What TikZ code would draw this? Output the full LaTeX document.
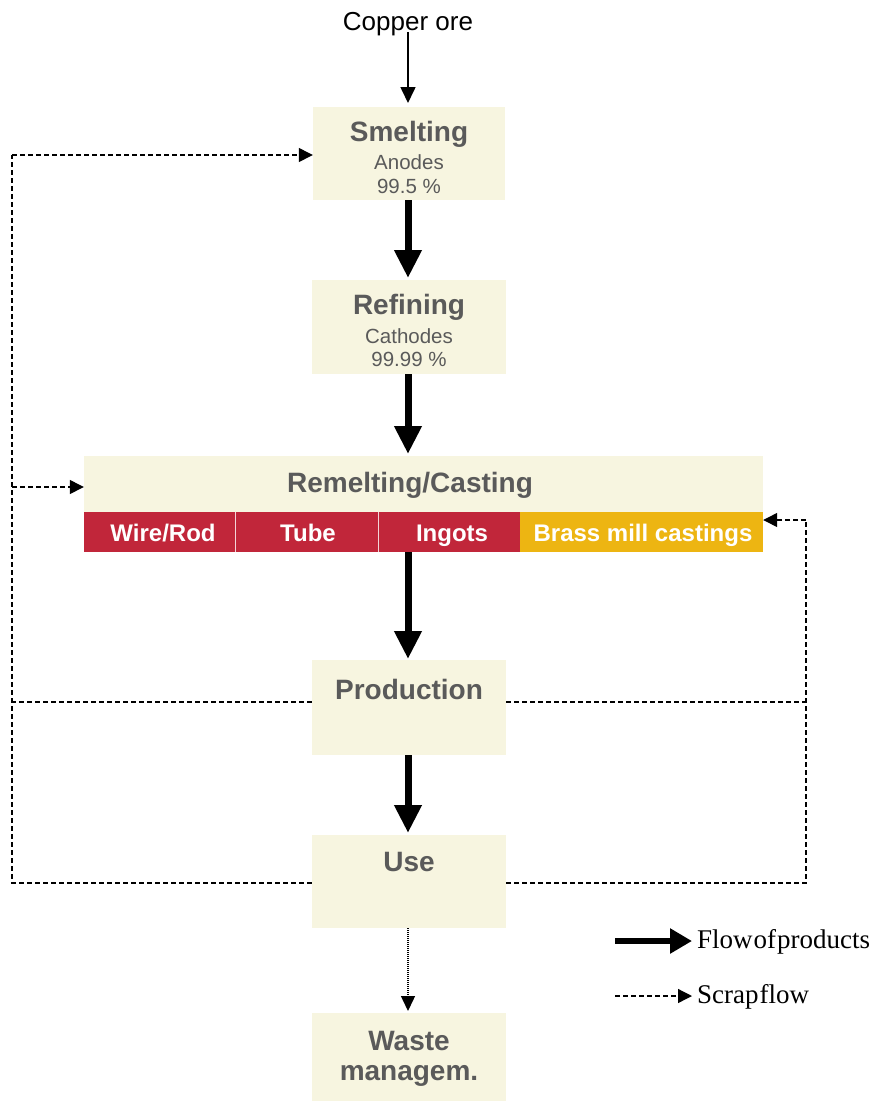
\documentclass[tikz,border=0pt]{standalone}
\usepackage{fontspec}
\setmainfont{Liberation Sans}
\newfontfamily\legendfont{Liberation Serif}[WordSpace=0.15]
\usetikzlibrary{arrows.meta}
\definecolor{cream}{HTML}{F7F5E0}
\definecolor{boxtext}{HTML}{5A5A5A}
\definecolor{castred}{HTML}{C1263A}
\definecolor{castgold}{HTML}{EDB512}
\tikzset{
  box/.style={rectangle, fill=cream, draw=none, inner sep=0pt},
  cell/.style={rectangle, draw=none, inner sep=0pt, minimum height=40pt},
  celltext/.style={anchor=base, inner sep=0pt, text=white,
    font=\fontsize{24}{28}\selectfont\bfseries},
  title/.style={text=boxtext, font=\fontsize{28}{32}\selectfont\bfseries, inner sep=0pt},
  sub/.style={text=boxtext, font=\fontsize{20.5}{24}\selectfont, inner sep=0pt},
  flow/.style={line width=7pt, -{Triangle[length=28pt,width=26pt]}},
  feed/.style={line width=1.6pt, -{Triangle[length=16pt,width=15pt]}},
  scrap/.style={line width=1.3pt, dash pattern=on 5pt off 3pt},
  scraparrow/.style={scrap, -{Triangle[length=14pt,width=14pt]}},
  waste/.style={line width=1.4pt, dash pattern=on 1.2pt off 0.8pt, -{Triangle[length=15pt,width=14pt]}},
  legend/.style={anchor=west, inner sep=0pt, font=\legendfont\fontsize{27}{31}\selectfont}
}
\begin{document}
\begin{tikzpicture}[x=1pt,y=-1pt]
\useasboundingbox (0,0) rectangle (874,1101);
% source
\node[inner sep=0pt, font=\fontsize{26}{30}\selectfont] (ore) at (408,24) {Copper ore};
% boxes
\node[box, minimum width=192pt, minimum height=93pt] (smelt) at (409,153.5) {};
\node[title] (smeltT) at (409,134) {Smelting};
\node[sub] (smeltA) at (409,162) {Anodes};
\node[sub] (smeltB) at (409,186) {99.5 \%};

\node[box, minimum width=194pt, minimum height=94pt] (refine) at (409,327) {};
\node[title] (refineT) at (409,307) {Refining};
\node[sub] (refineA) at (409,336) {Cathodes};
\node[sub] (refineB) at (409,359) {99.99 \%};

\node[box, minimum width=679pt, minimum height=56pt] (remelt) at (423.5,484) {};
\node[title] (remeltT) at (410,485) {Remelting/Casting};

\node[cell, fill=castred, minimum width=151pt] (wire) at (159.5,532) {};
\node[cell, fill=castred, minimum width=143pt] (tube) at (306.5,532) {};
\node[cell, fill=castred, minimum width=142pt] (ingots) at (449,532) {};
\node[cell, fill=castgold, minimum width=243pt] (brass) at (641.5,532) {};
\draw[white!80!castred, line width=0.8pt] (wire.north east) -- (wire.south east);
\draw[white!80!castred, line width=0.8pt] (tube.north east) -- (tube.south east);
\node[celltext] (wireT) at (163,541) {Wire/Rod};
\node[celltext] (tubeT) at (308,541) {Tube};
\node[celltext] (ingotsT) at (452,541) {Ingots};
\node[celltext] (brassT) at (643,541) {Brass mill castings};

\node[box, minimum width=194pt, minimum height=95pt] (prod) at (409,707.5) {};
\node[title] (prodT) at (409,689) {Production};

\node[box, minimum width=194pt, minimum height=93pt] (use) at (409,881.5) {};
\node[title] (useT) at (409,862) {Use};

\node[box, minimum width=194pt, minimum height=88pt] (waste) at (409,1057) {};
\node[title] (wasteT1) at (409,1041) {Waste};
\node[title] (wasteT2) at (409,1076) {managem.};

% product flow
\draw[feed] (ore.south -| 408,0) ++(0,-4) -- (408,103);
\draw[flow] (smelt.south -| 408,0) -- (408,278);
\draw[flow] (refine.south -| 408,0) -- (408,454);
\draw[flow] (ingots.south -| 408,0) -- (408,659);
\draw[flow] (prod.south -| 408,0) -- (408,833);
\draw[waste] (use.south -| 408,0) -- (408,1011);

% scrap flow
\coordinate (pl) at (prod.west |- 0,702);
\coordinate (pr) at (prod.east |- 0,702);
\coordinate (ul) at (use.west |- 0,883);
\coordinate (ur) at (use.east |- 0,883);
\coordinate (lt) at (12,155);
\coordinate (lm) at (12,487);
\coordinate (lb) at (12,883);
\coordinate (rt) at (806,520);
\coordinate (rb) at (806,883);
\draw[scrap] (ul) -- (lb) -- (lt);
\draw[scraparrow] (lt) -- (smelt.west |- lt);
\draw[scraparrow] (lm) -- (remelt.west |- lm);
\draw[scrap] (pl) -- (12,702);
\draw[scrap] (ur) -- (rb) -- (rt);
\draw[scraparrow] (rt) -- (brass.east |- rt);
\draw[scrap] (pr) -- (806,702);

% legend
\coordinate (f1) at (615,941);
\coordinate (f2) at (692,941);
\coordinate (s1) at (615,996);
\coordinate (s2) at (692,996);
\draw[line width=6pt, -{Triangle[length=22pt,width=24pt]}] (f1) -- (f2);
\draw[scraparrow] (s1) -- (s2);
\node[legend] (legF) at (697,942) {Flow of products};
\node[legend] (legS) at (697,997) {Scrap flow};
\end{tikzpicture}
\end{document}
